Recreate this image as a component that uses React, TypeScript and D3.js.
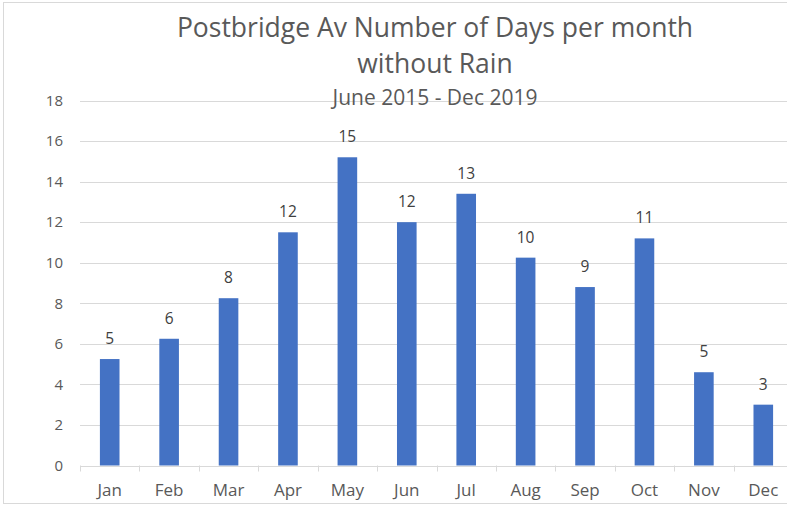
import React from 'react';
import { scaleBand, scaleLinear, range } from 'd3';

const months = ['Jan', 'Feb', 'Mar', 'Apr', 'May', 'Jun', 'Jul', 'Aug', 'Sep', 'Oct', 'Nov', 'Dec'];
const daysWithoutRain = [5.25, 6.25, 8.25, 11.5, 15.2, 12, 13.4, 10.25, 8.8, 11.2, 4.6, 3];
const barLabels = ['5', '6', '8', '12', '15', '12', '13', '10', '9', '11', '5', '3'];
const yTicks = [0, 2, 4, 6, 8, 10, 12, 14, 16, 18];

const width = 787;
const height = 507;
const margin = { top: 100.5, right: -6, bottom: 41.5, left: 80 };
const font = '"Open Sans", sans-serif';

const App = () => {
  const x = scaleBand<string>()
    .domain(months)
    .range([margin.left, width - margin.right])
    .padding(0);
  const y = scaleLinear()
    .domain([0, 18])
    .range([height - margin.bottom, margin.top]);
  const barW = x.bandwidth() * 0.33;
  const y0 = y(0);

  return (
    <svg
      width={width}
      height={height}
      style={{ position: 'absolute', left: 0, top: 0, background: '#fff' }}
      fontFamily={font}
    >
      <rect x={3.5} y={2.5} width={820} height={501} fill="#fff" stroke="#d9d9d9" />

      {/* grid */}
      {yTicks.map(t => (
        <g key={t}>
          {t > 0 && (
            <line x1={margin.left} x2={width} y1={Math.round(y(t)) + 0.5} y2={Math.round(y(t)) + 0.5} stroke="#d9d9d9" />
          )}
          <text x={63} y={y(t)} dy="0.35em" textAnchor="end" fontSize={15} fill="#595959">
            {t}
          </text>
        </g>
      ))}

      {/* bars */}
      {months.map((m, i) => (
        <g key={m}>
          <rect
            x={(x(m) as number) + (x.bandwidth() - barW) / 2}
            y={y(daysWithoutRain[i])}
            width={barW}
            height={y0 - y(daysWithoutRain[i])}
            fill="#4472c4"
          />
          <text
            x={(x(m) as number) + x.bandwidth() / 2}
            y={y(daysWithoutRain[i]) - 15}
            textAnchor="middle"
            fontSize={15.5}
            fill="#404040"
          >
            {barLabels[i]}
          </text>
        </g>
      ))}

      {/* x axis */}
      <line x1={margin.left} x2={width} y1={Math.round(y0) + 0.5} y2={Math.round(y0) + 0.5} stroke="#d9d9d9" />
      {range(months.length + 1).map(i => {
        const px = Math.round(margin.left + i * x.step()) + 0.5;
        return <line key={i} x1={px} x2={px} y1={y0} y2={y0 + 6} stroke="#d9d9d9" />;
      })}
      {months.map(m => (
        <text
          key={m}
          x={(x(m) as number) + x.bandwidth() / 2}
          y={496}
          textAnchor="middle"
          fontSize={17}
          fill="#595959"
        >
          {m}
        </text>
      ))}

      {/* titles */}
      <text x={435} y={37} textAnchor="middle" fontSize={26.5} fill="#595959">
        Postbridge Av Number of Days per month
      </text>
      <text x={435} y={73} textAnchor="middle" fontSize={26.5} fill="#595959">
        without Rain
      </text>
      <text x={435} y={105} textAnchor="middle" fontSize={21} fill="#595959">
        June 2015 - Dec 2019
      </text>
    </svg>
  );
};

export default App;
